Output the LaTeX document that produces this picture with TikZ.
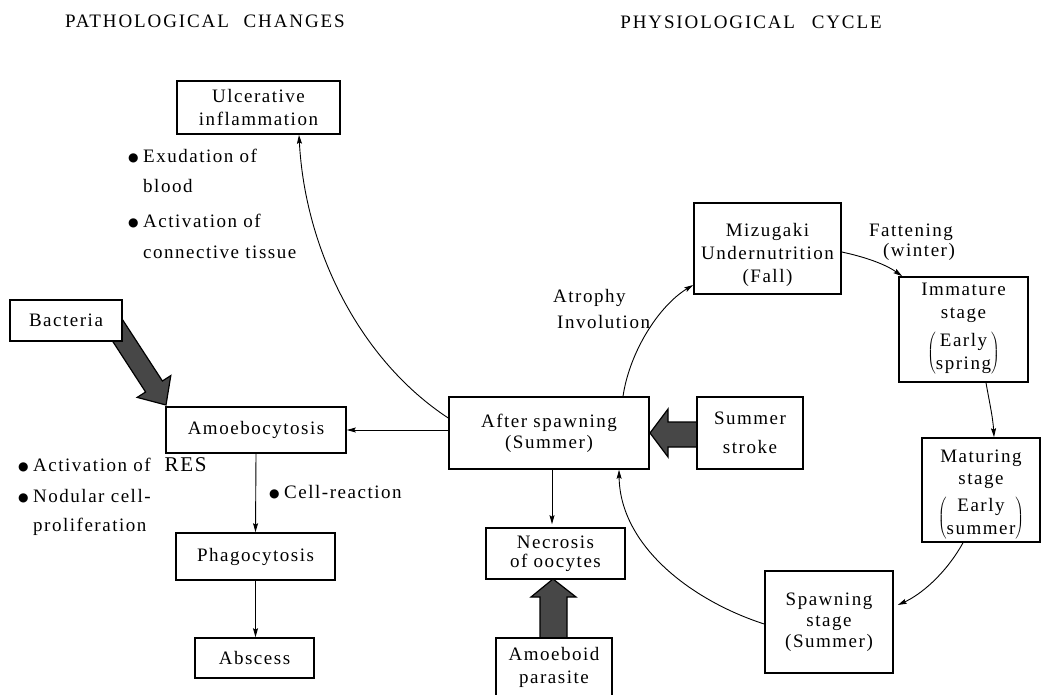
\documentclass[tikz,border=0pt]{standalone}
\usepackage{fontspec}
\setmainfont{Liberation Serif}[LetterSpace=8]
\newfontfamily\titlefont{Liberation Serif}[LetterSpace=10]
\newfontfamily\symfont{DejaVu Sans}
\usetikzlibrary{arrows.meta}
\newcommand{\boxfont}{\fontsize{19}{23}\selectfont}
\newcommand{\mybul}{\makebox[15pt][l]{\raisebox{1pt}{\symfont\fontsize{12}{12}\selectfont ●}}}
\newcommand{\bigpar}[2]{$\left(\begin{tabular}{@{}c@{}}#1\\#2\end{tabular}\right)$}
\begin{document}
\begin{tikzpicture}[x=1pt,y=-1pt,
  box/.style={draw,line width=1.6pt,fill=white,inner sep=0pt,align=center,font=\boxfont},
  arr/.style={line width=0.9pt,-{Stealth[length=9pt,width=5pt,inset=1.5pt]}},
  blk/.style={fill=black!72,draw=black,line width=1.2pt,line join=miter},
  lbl/.style={inner sep=0pt,anchor=base west,font=\boxfont},
  ttl/.style={inner sep=0pt,anchor=base,font=\titlefont\fontsize{19}{22}\selectfont}]
\useasboundingbox[fill=white] (0,0) rectangle (1043,695);

% titles
\node[ttl] (t1) at (205,28) {PATHOLOGICAL\hspace{8pt} CHANGES};
\node[ttl] (t2) at (751,29) {PHYSIOLOGICAL\hspace{10pt} CYCLE};

% block arrows
\draw[blk] (122.6,319.8) -- (162.4,381) -- (170.8,375.6) -- (166,405) -- (137.2,397.4) -- (145.6,392) -- (105.8,330.7) -- cycle;
\draw[blk] (702,422) -- (668,422) -- (668,409) -- (650,433) -- (668,457) -- (668,447) -- (702,447) -- cycle;
\draw[blk] (540,642) -- (540,597) -- (531,597) -- (553,579) -- (576,597) -- (567,597) -- (567,642) -- cycle;

% boxes
\node[box,minimum width=163pt,minimum height=53pt] (ulc) at (258.5,107.5) {Ulcerative\\inflammation};
\node[box,minimum width=112pt,minimum height=41pt] (bac) at (66,320.5) {Bacteria};
\node[box,minimum width=180pt,minimum height=46pt] (amo) at (256,430) {Amoebocytosis};
\node[box,minimum width=159pt,minimum height=47pt] (pha) at (255.5,556.5) {Phagocytosis};
\node[box,minimum width=119pt,minimum height=40pt] (abs) at (254.5,658) {Abscess};
\node[box,minimum width=200pt,minimum height=72pt] (aft) at (549,433) {After spawning\\[-2pt](Summer)};
\node[box,minimum width=106pt,minimum height=72pt] (sum) at (750,433) {Summer\\[6pt]stroke};
\node[box,minimum width=139pt,minimum height=51pt] (nec) at (555.5,553.5) {Necrosis\\[-4pt]of oocytes};
\node[box,minimum width=116pt,minimum height=59pt] (amp) at (554,667.5) {Amoeboid\\parasite};
\node[box,minimum width=147pt,minimum height=91pt] (miz) at (767.5,248.5) {\rule{0pt}{27pt}Mizugaki\\Undernutrition\\(Fall)};
\node[box,minimum width=129pt,minimum height=105pt] (imm) at (963.5,329.5) {Immature\\stage\\[7pt]\bigpar{Early}{spring}};
\node[box,minimum width=118pt,minimum height=104pt] (mat) at (981,490) {\rule{0pt}{24pt}Maturing\\[-1pt]stage\\[5pt]\bigpar{Early}{summer}};
\node[box,minimum width=128pt,minimum height=102pt] (spa) at (829,622) {Spawning\\[-2pt]stage\\[-2pt](Summer)};

% labels
\node[lbl] (e1) at (128,163) {\mybul Exudation of};
\node[lbl] (e2) at (143,193) {blood};
\node[lbl] (e3) at (128,227) {\mybul Activation of};
\node[lbl] (e4) at (143,258) {connective tissue};
\node[lbl] (r1) at (18,471) {\mybul Activation of\hspace{14pt}{\fontsize{21}{23}\selectfont RES}};
\node[lbl] (r2) at (18,502) {\mybul Nodular cell-};
\node[lbl] (r3) at (33,531) {proliferation};
\node[lbl] (c1) at (269,498) {\mybul Cell-reaction};
\node[lbl] (a1) at (553,302) {Atrophy};
\node[lbl] (a2) at (557,328) {Involution};
\node[lbl,anchor=base] (f1) at (911,236) {Fattening};
\node[lbl,anchor=base] (f2) at (919,256) {(winter)};

% connectors
\draw[arr] (aft.west |- amo.east) -- (amo.east);
\draw[arr] ([yshift=15pt]aft.west) .. controls (360,360) and (305,250) .. ([xshift=40.5pt]ulc.south);
\draw[arr] (amo.south) -- (pha.north);
\draw[arr] (pha.south) -- (pha.south |- abs.north);
\draw[arr] ([xshift=3pt]aft.south) -- ([xshift=3pt,yshift=3pt]aft.south |- nec.north);
\draw[arr] ([xshift=74pt]aft.north) .. controls (630,350) and (660,305) .. ([yshift=-36.5pt]miz.west);
\draw[arr] ([yshift=-3.5pt]miz.east) .. controls (865,257) and (885,264) .. ([xshift=4pt]imm.north west);
\draw[arr] ([xshift=22.5pt]imm.south) .. controls (989,400) and (993,418) .. ([xshift=13pt]mat.north);
\draw[arr] ([xshift=-18pt]mat.south) .. controls (945,575) and (920,595) .. ([xshift=4pt,yshift=17pt]spa.east);
\draw[arr] ([yshift=-2pt]spa.west) .. controls (690,600) and (620,545) .. ([xshift=70pt]aft.south);
\end{tikzpicture}
\end{document}
